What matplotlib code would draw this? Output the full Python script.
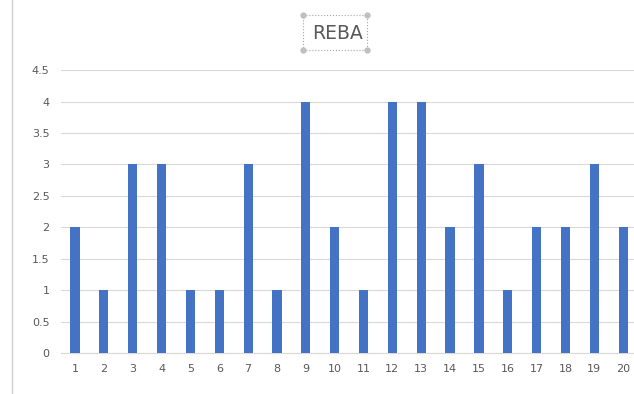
import matplotlib
matplotlib.use("Agg")
from matplotlib import pyplot as plt
from matplotlib.patches import Rectangle
from matplotlib.lines import Line2D
import numpy as np

# REBA score per sample
samples = [str(i) for i in range(1, 21)]
scores = [2, 1, 3, 3, 1, 1, 3, 1, 4, 2, 1, 4, 4, 2, 3, 1, 2, 2, 3, 2]
yticks = [0, 0.5, 1, 1.5, 2, 2.5, 3, 3.5, 4, 4.5]

fig = plt.figure(figsize=(6.34, 3.94), dpi=100)
ax = fig.add_axes([0.0956, 0.104, 0.910, 0.718])

x = np.arange(len(samples))
ax.bar(x, scores, width=0.32, color='#4472C4', zorder=3)

ax.set_xlim(-0.5, len(samples) - 0.5)
ax.set_ylim(0, 4.5)
ax.set_xticks(x)
ax.set_xticklabels(samples)
ax.set_yticks(yticks)
ax.set_yticklabels([f"{v:g}" for v in yticks])
ax.grid(axis='y', color='#D9D9D9', linewidth=0.8, zorder=0)
ax.tick_params(length=0, labelsize=8, colors='#595959', pad=8)
for side in ['top', 'right', 'left']:
    ax.spines[side].set_visible(False)
ax.spines['bottom'].set_color('#D9D9D9')

# title with its dotted selection frame
fig.text(0.532, 0.916, 'REBA', ha='center', va='center', fontsize=13.5, color='#595959')
bx0, by0, bw, bh = 303 / 634, 1 - 50 / 394, 64 / 634, 35 / 394
fig.patches.append(Rectangle((bx0, by0), bw, bh, transform=fig.transFigure,
                             fill=False, edgecolor='#A6A6A6', linestyle=':', linewidth=0.8))
for cx in (bx0, bx0 + bw):
    for cy in (by0, by0 + bh):
        fig.lines.append(Line2D([cx], [cy], transform=fig.transFigure, marker='o',
                                markersize=3.5, color='#BFBFBF'))

# chart area border on the left
fig.lines.append(Line2D([12 / 634, 12 / 634], [0, 1], transform=fig.transFigure,
                        color='#D0D0D0', linewidth=1))

fig.savefig('out.png', dpi=100)
